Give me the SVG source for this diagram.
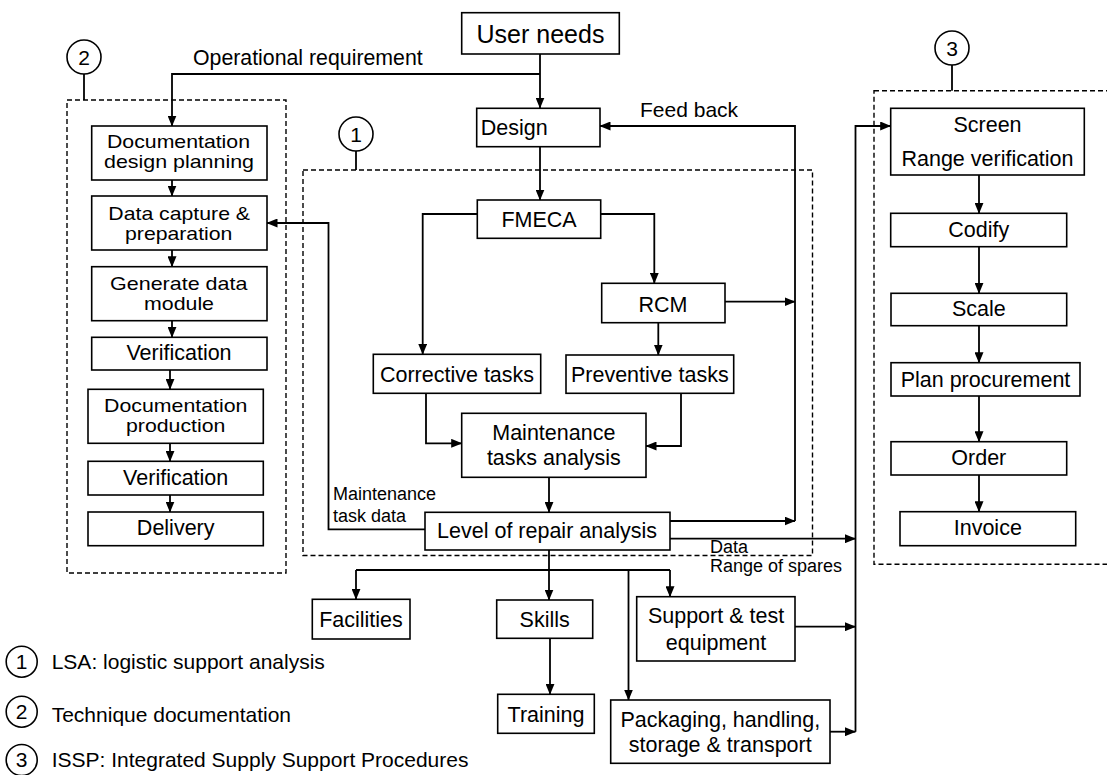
<svg xmlns="http://www.w3.org/2000/svg" width="1107" height="775" viewBox="0 0 1107 775">
<defs>
<marker id="ah" markerWidth="11" markerHeight="9" refX="10.5" refY="4.5" orient="auto" markerUnits="userSpaceOnUse">
<path d="M0,0 L11,4.5 L0,9 Z" fill="#000"/>
</marker>
<style>
text{font-family:"Liberation Sans",Arial,sans-serif;fill:#000}
.b{fill:#fff;stroke:#000;stroke-width:1.6}
.d{fill:none;stroke:#000;stroke-width:1.4;stroke-dasharray:5,3}
.c{fill:#fff;stroke:#000;stroke-width:1.6}
.t{font-size:21.5px;text-anchor:middle}
.t2{font-size:18.5px;text-anchor:middle}
.s{font-size:18px}
.n{font-size:21px;text-anchor:middle}
.l{fill:none;stroke:#000;stroke-width:1.8}
.a{fill:none;stroke:#000;stroke-width:1.8;marker-end:url(#ah)}
</style>
</defs>
<rect width="1107" height="775" fill="#fff"/>

<g id="groups">
<rect class="d" x="67" y="100" width="219" height="473"/>
<rect class="d" x="303" y="170" width="509.5" height="385.5"/>
<rect class="d" x="874" y="90.7" width="240" height="473.5"/>
<line class="l" x1="84" y1="74" x2="84" y2="100"/>
<line class="l" x1="356" y1="151" x2="356" y2="170"/>
<line class="l" x1="952" y1="65" x2="952" y2="90.7"/>
<circle class="c" cx="84" cy="57" r="17"/>
<text class="n" x="84" y="64.5">2</text>
<circle class="c" cx="356" cy="134" r="17"/>
<text class="n" x="356" y="141.5">1</text>
<circle class="c" cx="952" cy="48" r="17"/>
<text class="n" x="952" y="55.5">3</text>
</g>

<g id="connectors">
<path class="a" d="M540 54 V108"/>
<path class="a" d="M540 74 H172 V126"/>
<path class="a" d="M540 146.7 V200"/>
<path class="a" d="M477.3 214 H422.7 V354.3"/>
<path class="a" d="M600.7 214 H654.3 V283.3"/>
<path class="a" d="M658.3 322.7 V355"/>
<path class="a" d="M725 301.7 H795"/>
<path class="a" d="M426 393.3 V443.3 H461.7"/>
<path class="a" d="M681 393.3 V446 H646"/>
<path class="a" d="M549 477.3 V512.3"/>
<path class="a" d="M670 521 H795"/>
<path class="a" d="M795 521 V126 H600"/>
<path class="a" d="M670 538.7 H855.5"/>
<path class="a" d="M855.5 731.7 V126 H890.7"/>
<path class="a" d="M795 626.7 H855.5"/>
<path class="a" d="M830 731.7 H855.5"/>
<path class="a" d="M425 529.3 H328.5 V223 H267"/>
<path class="a" d="M549 550 V600"/>
<path class="l" d="M356 570 H670"/>
<path class="a" d="M356 570 V599.3"/>
<path class="a" d="M670 570 V596.7"/>
<path class="a" d="M628.5 570 V700"/>
<path class="a" d="M550 638.3 V694.3"/>
<path class="a" d="M172 180 V196"/>
<path class="a" d="M172 250 V266.7"/>
<path class="a" d="M172 320.7 V337.3"/>
<path class="a" d="M170 370 V389.3"/>
<path class="a" d="M170 443.3 V461.3"/>
<path class="a" d="M170 495 V512"/>
<path class="a" d="M979 175 V213.3"/>
<path class="a" d="M979 246.7 V293.3"/>
<path class="a" d="M979 325.7 V362.7"/>
<path class="a" d="M979 396 V441.7"/>
<path class="a" d="M979 475 V511.7"/>
</g>

<g id="labels">
<text x="193" y="65" style="font-size:21.3px">Operational requirement</text>
<text x="640" y="117" style="font-size:21px">Feed back</text>
<text class="s" x="333" y="500">Maintenance</text>
<text class="s" x="333" y="521.7">task data</text>
<text class="s" x="710" y="553">Data</text>
<text class="s" x="710" y="572">Range of spares</text>
</g>

<g id="user-needs"><rect class="b" x="461.7" y="12.7" width="157.6" height="41.3"/><text x="540.5" y="43" style="font-size:25px;text-anchor:middle">User needs</text></g>
<g id="design"><rect class="b" x="476.7" y="108.3" width="123.3" height="38.4"/><text x="480.7" y="135" style="font-size:21.5px">Design</text></g>
<g id="fmeca"><rect class="b" x="477.3" y="200" width="123.4" height="38.3"/><text class="t" x="539" y="226.7">FMECA</text></g>
<g id="rcm"><rect class="b" x="601.7" y="283.3" width="123.3" height="39.4"/><text class="t" x="663" y="311.7">RCM</text></g>
<g id="corrective"><rect class="b" x="373.3" y="354.3" width="167.4" height="39"/><text class="t" x="457" y="381.7">Corrective tasks</text></g>
<g id="preventive"><rect class="b" x="566" y="355" width="167.7" height="38.3"/><text class="t" x="649.8" y="381.7">Preventive tasks</text></g>
<g id="maintenance"><rect class="b" x="461.7" y="413.3" width="184.3" height="64"/><text class="t" x="553.8" y="440">Maintenance</text><text class="t" x="553.8" y="465">tasks analysis</text></g>
<g id="lora"><rect class="b" x="425" y="512.3" width="245" height="37.7"/><text class="t" x="547" y="538.3">Level of repair analysis</text></g>

<g id="doc-design"><rect class="b" x="91.7" y="126" width="175.3" height="54"/><text class="t2" x="178.5" y="148" textLength="143" lengthAdjust="spacingAndGlyphs">Documentation</text><text class="t2" x="179" y="168" textLength="150" lengthAdjust="spacingAndGlyphs">design planning</text></g>
<g id="data-capture"><rect class="b" x="91.7" y="196" width="175.3" height="54"/><text class="t2" x="179.2" y="220" textLength="141.7" lengthAdjust="spacingAndGlyphs">Data capture &amp;</text><text class="t2" x="178.7" y="240" textLength="107.3" lengthAdjust="spacingAndGlyphs">preparation</text></g>
<g id="generate"><rect class="b" x="91.7" y="266.7" width="175.3" height="54"/><text class="t2" x="178.7" y="290" textLength="137.3" lengthAdjust="spacingAndGlyphs">Generate data</text><text class="t2" x="179" y="310" textLength="70" lengthAdjust="spacingAndGlyphs">module</text></g>
<g id="verification1"><rect class="b" x="91.7" y="337.3" width="175.3" height="32.7"/><text class="t" x="179" y="360">Verification</text></g>
<g id="doc-production"><rect class="b" x="88" y="389.3" width="175.3" height="54"/><text class="t2" x="175.7" y="411.7" textLength="143.3" lengthAdjust="spacingAndGlyphs">Documentation</text><text class="t2" x="175.7" y="431.7" textLength="99.3" lengthAdjust="spacingAndGlyphs">production</text></g>
<g id="verification2"><rect class="b" x="88" y="461.3" width="175.3" height="33.7"/><text class="t" x="175.7" y="485">Verification</text></g>
<g id="delivery"><rect class="b" x="88" y="512" width="175.3" height="33.7"/><text class="t" x="175.7" y="535">Delivery</text></g>

<g id="screen"><rect class="b" x="890.7" y="108.3" width="193.6" height="66.7"/><text class="t" x="987.5" y="131.7">Screen</text><text class="t" x="987.5" y="165.7">Range verification</text></g>
<g id="codify"><rect class="b" x="890.7" y="213.3" width="176" height="33.4"/><text class="t" x="978.7" y="236.7">Codify</text></g>
<g id="scale"><rect class="b" x="891" y="293.3" width="175.7" height="32.4"/><text class="t" x="978.8" y="316">Scale</text></g>
<g id="plan"><rect class="b" x="891" y="362.7" width="189" height="33.3"/><text class="t" x="985.5" y="386.7">Plan procurement</text></g>
<g id="order"><rect class="b" x="891" y="441.7" width="175.7" height="33.3"/><text class="t" x="978.8" y="465">Order</text></g>
<g id="invoice"><rect class="b" x="900" y="511.7" width="175.7" height="34"/><text class="t" x="987.8" y="535">Invoice</text></g>

<g id="facilities"><rect class="b" x="312.3" y="599.3" width="97.7" height="39.7"/><text class="t" x="361" y="626.7">Facilities</text></g>
<g id="skills"><rect class="b" x="496.7" y="600" width="96" height="38.3"/><text class="t" x="544.7" y="626.7">Skills</text></g>
<g id="training"><rect class="b" x="497.7" y="694.3" width="96.6" height="39"/><text class="t" x="546" y="721.7">Training</text></g>
<g id="support"><rect class="b" x="636.7" y="596.7" width="158.3" height="64.3"/><text class="t" x="716" y="623.3">Support &amp; test</text><text class="t" x="716" y="650">equipment</text></g>
<g id="packaging"><rect class="b" x="610.7" y="700" width="219.3" height="63.3"/><text class="t" x="720.3" y="726.7">Packaging, handling,</text><text class="t" x="720.3" y="751.7">storage &amp; transport</text></g>

<g id="legend">
<circle class="c" cx="21.7" cy="661.7" r="15.5"/><text class="n" x="21.7" y="669">1</text>
<text x="51.7" y="668.5" style="font-size:21px">LSA: logistic support analysis</text>
<circle class="c" cx="21.7" cy="711.7" r="15.5"/><text class="n" x="21.7" y="719">2</text>
<text x="51.7" y="721.7" style="font-size:21px">Technique documentation</text>
<circle class="c" cx="21.7" cy="760" r="15.5"/><text class="n" x="21.7" y="767.3">3</text>
<text x="51.7" y="766.7" style="font-size:21px">ISSP: Integrated Supply Support Procedures</text>
</g>
</svg>
